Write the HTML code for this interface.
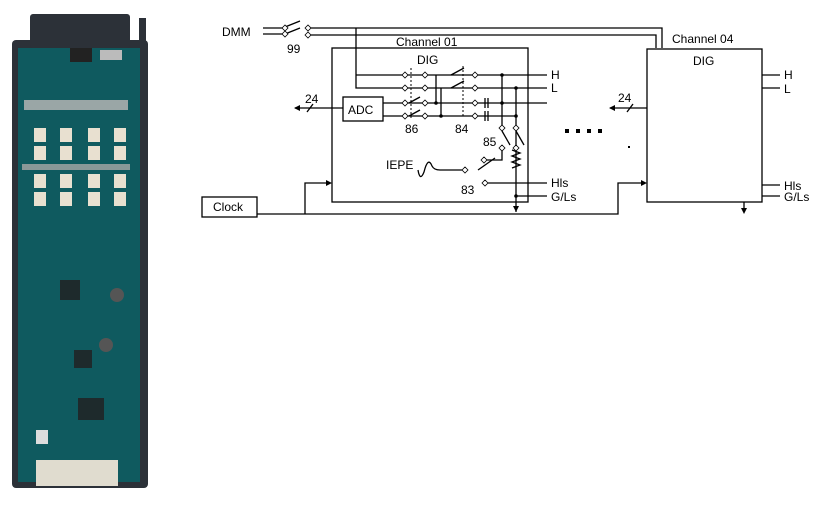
<!DOCTYPE html>
<html><head><style>
body{margin:0;background:#fff;width:825px;height:505px;overflow:hidden;position:relative;font-family:"Liberation Sans",sans-serif}
</style></head><body>
<svg width="825" height="505" style="position:absolute;left:0;top:0">
<!-- PCB -->
<rect x="12" y="40" width="136" height="448" rx="4" fill="#2c3138"/>
<rect x="30" y="14" width="100" height="34" rx="3" fill="#2c3138"/>
<rect x="139" y="18" width="7" height="84" fill="#2c3138"/>
<rect x="18" y="48" width="122" height="434" fill="#0f5a5f"/>
<rect x="70" y="48" width="22" height="14" fill="#222"/>
<rect x="100" y="50" width="22" height="10" fill="#bbb"/>
<rect x="24" y="100" width="104" height="10" fill="#9aa6a6"/>
<g fill="#e8e0d0">
<rect x="34" y="128" width="12" height="14"/><rect x="60" y="128" width="12" height="14"/><rect x="88" y="128" width="12" height="14"/><rect x="114" y="128" width="12" height="14"/>
<rect x="34" y="146" width="12" height="14"/><rect x="60" y="146" width="12" height="14"/><rect x="88" y="146" width="12" height="14"/><rect x="114" y="146" width="12" height="14"/>
<rect x="34" y="174" width="12" height="14"/><rect x="60" y="174" width="12" height="14"/><rect x="88" y="174" width="12" height="14"/><rect x="114" y="174" width="12" height="14"/>
<rect x="34" y="192" width="12" height="14"/><rect x="60" y="192" width="12" height="14"/><rect x="88" y="192" width="12" height="14"/><rect x="114" y="192" width="12" height="14"/>
</g>
<rect x="22" y="164" width="108" height="6" fill="#8a9898"/>
<rect x="60" y="280" width="20" height="20" fill="#1e2a2c"/>
<rect x="74" y="350" width="18" height="18" fill="#1e2a2c"/>
<rect x="78" y="398" width="26" height="22" fill="#1e2a2c"/>
<circle cx="117" cy="295" r="7" fill="#555"/><circle cx="106" cy="345" r="7" fill="#555"/>
<rect x="36" y="460" width="82" height="26" fill="#e0dccf"/>
<rect x="36" y="430" width="12" height="14" fill="#ddd"/>
<g stroke="#000" stroke-width="1.3" fill="none">
<line x1="263" y1="28" x2="283" y2="28"/><line x1="263" y1="34" x2="283" y2="34"/>
<line x1="285" y1="27" x2="300" y2="21"/><line x1="285" y1="34" x2="300" y2="28"/>
<polyline points="307,28 662,28 662,48"/><polyline points="307,35 656,35 656,48"/>
<polyline points="356,28 356,88 547,88"/><line x1="356" y1="75" x2="547" y2="75"/>
<rect x="332" y="48" width="196" height="154"/>
<rect x="343" y="97" width="40" height="24"/>
<line x1="383" y1="103" x2="547" y2="103"/><line x1="383" y1="116" x2="516" y2="116"/>
<line x1="343" y1="108" x2="295" y2="108"/>
<line x1="436" y1="75" x2="436" y2="103"/><line x1="441" y1="88" x2="441" y2="116"/>
<line x1="502" y1="75" x2="502" y2="128"/><line x1="516" y1="88" x2="516" y2="212"/>
<line x1="502" y1="131" x2="510" y2="145"/><line x1="516" y1="131" x2="524" y2="145"/>
<polyline points="502,148 502,160 485,160"/>
<line x1="478" y1="170" x2="495" y2="158"/>
<path d="M418 170 q2 12 6 2 q4 -16 8 -6 q2 4 8 4 L462 170"/>
<line x1="488" y1="183" x2="547" y2="183"/><line x1="516" y1="196" x2="547" y2="196"/>
<path d="M512 150 l8 3 l-8 3 l8 3 l-8 3 l8 3 l-8 3" />
<rect x="202" y="197" width="55" height="20"/>
<polyline points="257,214 618,214 618,183 645,183"/>
<polyline points="305,214 305,183 330,183"/>
<rect x="647" y="49" width="115" height="153"/>
<line x1="762" y1="75" x2="780" y2="75"/><line x1="762" y1="88" x2="780" y2="88"/>
<line x1="762" y1="185" x2="780" y2="185"/><line x1="762" y1="196" x2="780" y2="196"/>
<line x1="647" y1="108" x2="610" y2="108"/>
<line x1="744" y1="202" x2="744" y2="212"/>
<line x1="307" y1="112" x2="313" y2="104"/><line x1="627" y1="112" x2="633" y2="104"/>
<line x1="409" y1="103" x2="420" y2="97"/><line x1="409" y1="116" x2="420" y2="110"/>
<line x1="451" y1="75" x2="464" y2="68"/><line x1="451" y1="88" x2="464" y2="81"/>
<line x1="485" y1="98" x2="485" y2="108"/><line x1="488" y1="98" x2="488" y2="108"/>
<line x1="485" y1="111" x2="485" y2="121"/><line x1="488" y1="111" x2="488" y2="121"/>
</g>
<g stroke="#000" stroke-dasharray="2,2"><line x1="411" y1="68" x2="411" y2="118"/><line x1="463" y1="66" x2="463" y2="118"/></g>
<g fill="#fff" stroke="#000" stroke-width="0.8">
<path d="M402 75l3-3 3 3-3 3z M422 75l3-3 3 3-3 3z M472 75l3-3 3 3-3 3z M402 88l3-3 3 3-3 3z M422 88l3-3 3 3-3 3z M472 88l3-3 3 3-3 3z M402 103l3-3 3 3-3 3z M422 103l3-3 3 3-3 3z M472 103l3-3 3 3-3 3z M402 116l3-3 3 3-3 3z M422 116l3-3 3 3-3 3z M472 116l3-3 3 3-3 3z M499 128l3-3 3 3-3 3z M513 128l3-3 3 3-3 3z M499 148l3-3 3 3-3 3z M513 148l3-3 3 3-3 3z M481 160l3-3 3 3-3 3z M462 170l3-3 3 3-3 3z M482 183l3-3 3 3-3 3z M305 28l3-3 3 3-3 3z M305 35l3-3 3 3-3 3z M282 28l3-3 3 3-3 3z M282 34l3-3 3 3-3 3z"/>
</g>
<g fill="#000">
<path d="M294 108l6-3v6z M609 108l6-3v6z M332 183l-6-3v6z M647 183l-6-3v6z M516 212l-3-6h6z M744 214l-3-6h6z"/>
<circle cx="436" cy="103" r="1.8"/><circle cx="441" cy="116" r="1.8"/><circle cx="502" cy="75" r="1.8"/><circle cx="516" cy="88" r="1.8"/><circle cx="502" cy="103" r="1.8"/><circle cx="516" cy="116" r="1.8"/><circle cx="516" cy="196" r="1.8"/>
<rect x="565" y="129" width="4" height="4"/><rect x="576" y="129" width="4" height="4"/><rect x="587" y="129" width="4" height="4"/><rect x="598" y="129" width="4" height="4"/><rect x="628" y="146" width="2" height="2"/>
</g>
<g font-size="12" fill="#000">
<text x="222" y="36">DMM</text><text x="287" y="53">99</text>
<text x="396" y="46">Channel 01</text><text x="417" y="64">DIG</text>
<text x="348" y="114">ADC</text><text x="305" y="103">24</text>
<text x="405" y="133">86</text><text x="455" y="133">84</text><text x="483" y="146">85</text>
<text x="386" y="169">IEPE</text><text x="461" y="194">83</text>
<text x="551" y="79">H</text><text x="551" y="92">L</text><text x="551" y="187">Hls</text><text x="551" y="201">G/Ls</text>
<text x="213" y="211">Clock</text>
<text x="672" y="43">Channel 04</text><text x="693" y="65">DIG</text>
<text x="784" y="79">H</text><text x="784" y="93">L</text><text x="784" y="190">Hls</text><text x="784" y="201">G/Ls</text>
<text x="618" y="102">24</text>
</g>
</svg>
</body></html>
